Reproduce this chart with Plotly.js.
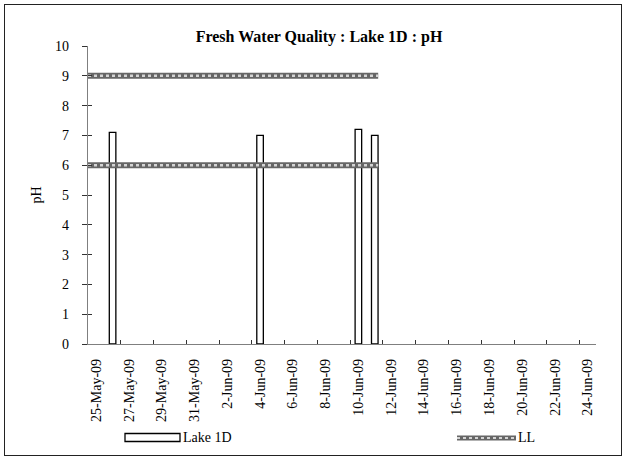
<!DOCTYPE html>
<html>
<head>
<meta charset="utf-8">
<script src="https://cdn.plot.ly/plotly-3.0.1.min.js"></script>
<style>
  html, body { margin: 0; padding: 0; background: #fff; }
  #wrap { position: relative; width: 626px; height: 458px; }
  #chart { position: absolute; left: 0; top: 0; width: 626px; height: 458px; }
  #frame { position: absolute; left: 4px; top: 4px; width: 616px; height: 450px; border: 1px solid #222; pointer-events: none; }
</style>
</head>
<body>
<div id="wrap">
  <div id="chart"></div>
  <div id="frame"></div>
</div>
<script>
// ---- data ----
const sampleDates = ['2009-05-26', '2009-06-04', '2009-06-10', '2009-06-11'];
const phValues = [7.1, 7.0, 7.2, 7.0];

const llStart = '2009-05-24 12:00';
const llEnd = '2009-06-11 05:00';
const llUpper = 9;
const llLower = 6;

const tickDates = ['2009-05-25','2009-05-27','2009-05-29','2009-05-31','2009-06-02','2009-06-04',
  '2009-06-06','2009-06-08','2009-06-10','2009-06-12','2009-06-14','2009-06-16','2009-06-18',
  '2009-06-20','2009-06-22','2009-06-24'];
const tickLabels = ['25-May-09','27-May-09','29-May-09','31-May-09','2-Jun-09','4-Jun-09',
  '6-Jun-09','8-Jun-09','10-Jun-09','12-Jun-09','14-Jun-09','16-Jun-09','18-Jun-09',
  '20-Jun-09','22-Jun-09','24-Jun-09'];

const xRange = ['2009-05-24 12:00', '2009-06-24 12:00'];
const DAY = 86400000;
const FONT = 'Liberation Serif, Times New Roman, serif';

const llX = [llStart, llEnd, null, llStart, llEnd];
const llY = [llUpper, llUpper, null, llLower, llLower];

const traces = [
  {
    type: 'bar', name: 'Lake 1D', x: sampleDates, y: phValues,
    width: sampleDates.map(() => 0.4 * DAY),
    marker: { color: '#ffffff', line: { color: '#000000', width: 1.3 } },
    showlegend: false, hoverinfo: 'x+y'
  },
  {
    type: 'scatter', mode: 'lines', name: 'LL', x: llX, y: llY,
    line: { color: '#666666', width: 6 }, showlegend: false, connectgaps: false
  },
  {
    type: 'scatter', mode: 'lines', name: 'LL', x: llX, y: llY, xaxis: 'x2', yaxis: 'y2',
    line: { color: '#d4d4d4', width: 2.5, dash: 'dot' }, showlegend: false, connectgaps: false,
    hoverinfo: 'skip'
  }
];

// legend positions (paper coords)
const px = v => (v - 88) / 508;
const py = v => (344 - v) / 298;

const layout = {
  width: 626, height: 458,
  margin: { l: 88, r: 30, t: 46, b: 114 },
  paper_bgcolor: '#ffffff', plot_bgcolor: '#ffffff',
  font: { family: FONT, size: 14, color: '#000' },
  title: {
    text: '<b>Fresh Water Quality : Lake 1D : pH</b>',
    font: { family: FONT, size: 16, color: '#000' },
    xref: 'container', yref: 'container', x: 319 / 626, y: 1 - 36 / 458,
    xanchor: 'center', yanchor: 'middle'
  },
  showlegend: false,
  bargap: 0,
  xaxis: {
    type: 'date', range: xRange, tickmode: 'array', tickvals: tickDates, ticktext: tickLabels,
    tickangle: -90, ticks: '', showgrid: false, zeroline: false,
    showline: true, linecolor: '#7f7f7f', linewidth: 1.3,
    tickfont: { family: FONT, size: 14, color: '#000' }, ticklabelstandoff: 8
  },
  xaxis2: {
    type: 'date', range: xRange, overlaying: 'x', anchor: 'y2', side: 'bottom',
    tickmode: 'linear', tick0: '2009-05-24 12:00', dtick: 2 * DAY,
    ticks: 'inside', ticklen: 4, tickcolor: '#333', tickwidth: 1,
    showticklabels: false, showgrid: false, showline: false, zeroline: false
  },
  yaxis: {
    range: [0, 10], tickmode: 'linear', tick0: 0, dtick: 1,
    ticks: 'outside', ticklen: 5, tickcolor: '#333', tickwidth: 1,
    showline: true, linecolor: '#7f7f7f', linewidth: 1.3,
    showgrid: false, zeroline: false,
    tickfont: { family: FONT, size: 14, color: '#000' }, ticklabelstandoff: 10,
    title: { text: 'pH', font: { family: FONT, size: 14, color: '#000' }, standoff: 10 }
  },
  yaxis2: {
    range: [0, 10], overlaying: 'y', anchor: 'x2', side: 'left',
    tickmode: 'linear', tick0: 0, dtick: 1,
    ticks: 'inside', ticklen: 4, tickcolor: '#333', tickwidth: 1,
    showticklabels: false, showgrid: false, showline: false, zeroline: false
  },
  shapes: [
    { type: 'rect', xref: 'paper', yref: 'paper', x0: px(125), x1: px(180), y0: py(441.5), y1: py(433.5),
      line: { color: '#000', width: 1.3 }, fillcolor: '#fff' },
    { type: 'line', xref: 'paper', yref: 'paper', x0: px(457), x1: px(516), y0: py(438), y1: py(438),
      line: { color: '#666666', width: 5 } },
    { type: 'line', xref: 'paper', yref: 'paper', x0: px(457), x1: px(516), y0: py(438), y1: py(438),
      line: { color: '#d4d4d4', width: 2, dash: 'dot' } }
  ],
  annotations: [
    { xref: 'paper', yref: 'paper', x: px(180.5), y: py(437.5), text: 'Lake 1D', showarrow: false,
      xanchor: 'left', yanchor: 'middle', font: { family: FONT, size: 14, color: '#000' } },
    { xref: 'paper', yref: 'paper', x: px(515.5), y: py(437.5), text: 'LL', showarrow: false,
      xanchor: 'left', yanchor: 'middle', font: { family: FONT, size: 14, color: '#000' } }
  ]
};

Plotly.newPlot('chart', traces, layout, { staticPlot: true, displayModeBar: false });
</script>
</body>
</html>
